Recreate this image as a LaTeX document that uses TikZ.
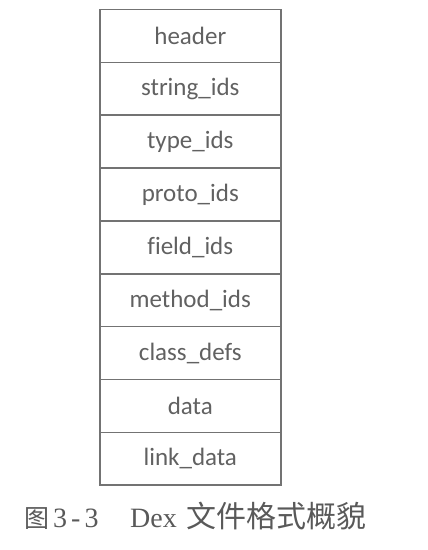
\documentclass[tikz,border=0pt]{standalone}
\usepackage{fontspec}
\setmainfont{Liberation Serif}
\newfontfamily\labelfont[Ligatures=NoCommon]{Carlito}
\newfontfamily\cjk{Noto Sans CJK SC}
\begin{document}
\begin{tikzpicture}[x=1pt,y=-1pt,
  cell/.style={draw=black!55, line width=1.6pt, minimum width=181pt, minimum height=52.85pt,
     inner sep=0pt, outer sep=0pt, text=black!62, font=\labelfont\fontsize{25}{25}\selectfont, anchor=north},
  captext/.style={text=black!65, font=\fontsize{28}{28}\selectfont, inner sep=0pt, anchor=base west}]
\useasboundingbox (0,0) rectangle (428,550);
\node[cell] (c1) at (190.3,9.5) {header};
\node[cell] (c2) at (c1.south) {string\_ids};
\node[cell] (c3) at (c2.south) {type\_ids};
\node[cell] (c4) at (c3.south) {proto\_ids};
\node[cell] (c5) at (c4.south) {field\_ids};
\node[cell] (c6) at (c5.south) {method\_ids};
\node[cell] (c7) at (c6.south) {class\_defs};
\node[cell] (c8) at (c7.south) {data};
\node[cell] (c9) at (c8.south) {link\_data};
\node[captext] (caption) at (24,527) {\makebox[29pt][l]{\cjk\fontsize{25}{25}\selectfont 图}\makebox[77pt][l]{3\kern4pt-\kern4pt3}Dex\hspace{10pt}{\cjk\fontsize{30}{30}\selectfont 文件格式概貌}};
\end{tikzpicture}
\end{document}
